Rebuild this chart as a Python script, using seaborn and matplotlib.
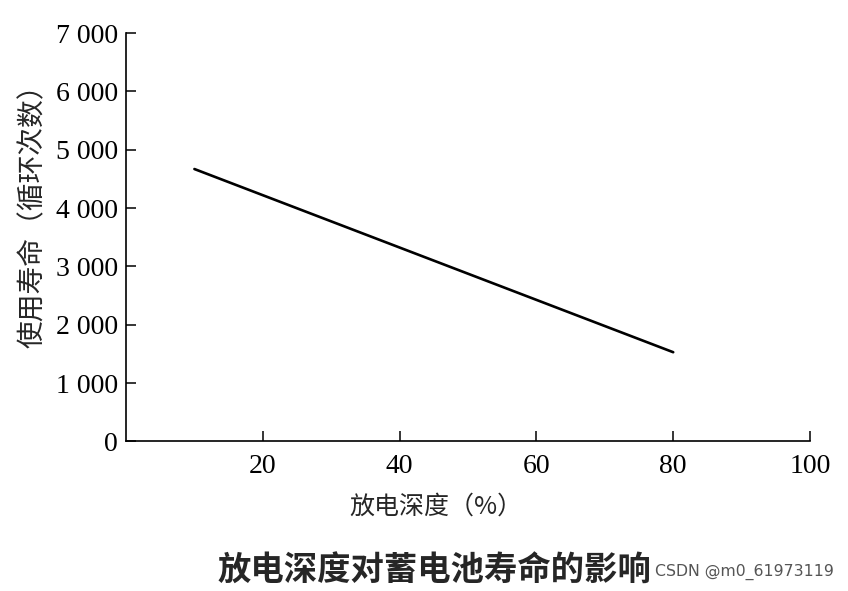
import matplotlib
matplotlib.use('Agg')
import matplotlib.pyplot as plt
from matplotlib.ticker import FuncFormatter
import seaborn as sns
import pandas as pd

# data
depth = [10, 80]            # 放电深度 (%)
cycles = [4670, 1530]       # 使用寿命 (循环次数)
x_ticks = [20, 40, 60, 80, 100]
y_ticks = [0, 1000, 2000, 3000, 4000, 5000, 6000, 7000]

sns.set_style("ticks")
plt.rcParams['font.family'] = ['Liberation Serif', 'Noto Sans CJK SC', 'DejaVu Sans']

df = pd.DataFrame({'depth': depth, 'cycles': cycles})

fig = plt.figure(figsize=(8.48, 5.91), dpi=100)
ax = fig.add_axes([0.1486, 0.253, 0.8066, 0.691])

sns.lineplot(data=df, x='depth', y='cycles', ax=ax, color='black', linewidth=1.9)

ax.set_xlim(0, 100)
ax.set_ylim(0, 7000)
ax.set_xticks(x_ticks)
ax.set_yticks(y_ticks)
ax.yaxis.set_major_formatter(FuncFormatter(lambda v, p: f'{int(v):,}'.replace(',', ' ')))
ax.tick_params(direction='in', length=7, width=1.1, labelsize=20, colors='black', pad=6)
ax.tick_params(axis='x', pad=9)
for s in ['left', 'bottom']:
    ax.spines[s].set_linewidth(1.2)
    ax.spines[s].set_color('black')
sns.despine(ax=ax)

cjk = ['Noto Sans CJK SC', 'DejaVu Sans']
ax.set_xlabel('放电深度（%）', fontsize=18, family=cjk)
ax.set_ylabel('使用寿命（循环次数）', fontsize=20, family=cjk)
# label anchors: top edge of x label, right edge of rotated y label
ax.xaxis.set_label_coords(0.453, -0.127)
ax.yaxis.set_label_coords(-0.115, 0.569)

fig.text(0.257, 0.033, '放电深度对蓄电池寿命的影响', fontsize=24, family=cjk,
         fontweight='bold', ha='left', va='center')
fig.text(0.772, 0.033, 'CSDN @m0_61973119', fontsize=11.3, family=['DejaVu Sans'],
         color='#555555', ha='left', va='center')

plt.savefig('out.png', dpi=100)
plt.close()
